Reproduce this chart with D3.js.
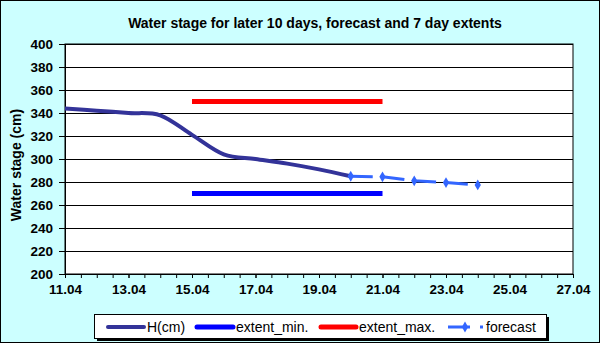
<!DOCTYPE html>
<html><head><meta charset="utf-8">
<script src="https://cdn.jsdelivr.net/npm/d3@7"></script>
<style>body{margin:0;} svg{display:block;font-family:"Liberation Sans",Arial,sans-serif;}</style>
</head><body><svg id="c" width="600" height="343"></svg>
<script>
// ---- data ----
const hDates = ["11.04","12.04","13.04","14.04","15.04","16.04","17.04","18.04","19.04","20.04"];
const hValues = [344, 342, 340, 338, 321, 304, 300, 296, 291, 285];
const forecastDates = ["20.04","21.04","22.04","23.04","24.04"];
const forecastValues = [285, 284.5, 281, 279.5, 277.5];
const extentDates = ["15.04","21.04"];
const extentMinValues = [270, 270];
const extentMaxValues = [350, 350];
const xTickLabels = ["11.04","13.04","15.04","17.04","19.04","21.04","23.04","25.04","27.04"];
const yTickValues = [200,220,240,260,280,300,320,340,360,380,400];
const seriesNames = ["H(cm)","extent_min.","extent_max.","forecast"];
const titleText = "Water stage for later 10 days, forecast and 7 day extents";
const yTitle = "Water stage (cm)";

// ---- setup ----
const W = 600, H = 343;
const m = {l:65, r:27, t:44, b:69};
const parse = d3.timeParse("%d.%m");
const fmt = d3.timeFormat("%d.%m");
const svg = d3.select("#c");

const x = d3.scaleTime()
  .domain([parse(xTickLabels[0]), parse(xTickLabels[xTickLabels.length-1])])
  .range([m.l, W - m.r]);
const y = d3.scaleLinear().domain([200, 400]).range([H - m.b, m.t]);

// background
svg.append("rect").attr("x",0.5).attr("y",0.5).attr("width",W-1).attr("height",H-1)
  .attr("fill","#ccffff").attr("stroke","#000");
// plot area
svg.append("rect").attr("x",m.l).attr("y",m.t).attr("width",W-m.l-m.r).attr("height",H-m.t-m.b)
  .attr("fill","#fff").attr("stroke","#000");

// gridlines
svg.append("g").selectAll("line").data(yTickValues).join("line")
  .attr("x1",m.l).attr("x2",W-m.r)
  .attr("y1",d=>Math.round(y(d))+0.5).attr("y2",d=>Math.round(y(d))+0.5)
  .attr("stroke","#000").attr("stroke-width",1);

// y axis
const yAxis = svg.append("g").attr("transform",`translate(${m.l},0)`)
  .call(d3.axisLeft(y).tickValues(yTickValues).tickSize(6).tickPadding(6));
yAxis.select(".domain").attr("stroke","#000");
yAxis.selectAll("text").attr("font-size",13.5).attr("font-weight","bold").attr("fill","#000");

// x axis: minor ticks every half day, labels every 2 days
const minor = d3.timeHour.every(12).range(x.domain()[0], d3.timeHour.offset(x.domain()[1],1));
const xAxisMinor = svg.append("g").attr("transform",`translate(0,${H-m.b})`)
  .call(d3.axisBottom(x).tickValues(minor).tickSize(4).tickFormat(""));
xAxisMinor.select(".domain").attr("stroke","#000");
const xAxis = svg.append("g").attr("transform",`translate(0,${H-m.b})`)
  .call(d3.axisBottom(x).tickValues(xTickLabels.map(parse)).tickSize(4).tickPadding(6.5).tickFormat(fmt));
xAxis.select(".domain").remove();
xAxis.selectAll("text").attr("font-size",13.5).attr("font-weight","bold").attr("fill","#000");

// series
const lineGen = d3.line().x(d=>x(d[0])).y(d=>y(d[1]));
svg.append("path")
  .datum(hDates.map((d,i)=>[parse(d), hValues[i]]))
  .attr("d", lineGen.curve(d3.curveCatmullRom.alpha(0)))
  .attr("fill","none").attr("stroke","#333399").attr("stroke-width",4).attr("stroke-linejoin","round");

const straight = d3.line().x(d=>x(d[0])).y(d=>y(d[1]));
svg.append("path")
  .datum(extentDates.map((d,i)=>[parse(d), extentMinValues[i]]))
  .attr("d", straight).attr("fill","none").attr("stroke","#0000ff").attr("stroke-width",5);
svg.append("path")
  .datum(extentDates.map((d,i)=>[parse(d), extentMaxValues[i]]))
  .attr("d", straight).attr("fill","none").attr("stroke","#ff0000").attr("stroke-width",5);

const fData = forecastDates.map((d,i)=>[parse(d), forecastValues[i]]);
svg.append("path").datum(fData).attr("d", straight)
  .attr("fill","none").attr("stroke","#3366ff").attr("stroke-width",3)
  .attr("stroke-dasharray","22,9.8");
const diamond = d3.symbol().type(d3.symbolDiamond).size(34);
svg.append("g").selectAll("path").data(fData).join("path")
  .attr("transform",d=>`translate(${x(d[0])},${y(d[1])})`)
  .attr("d", diamond).attr("fill","#3366ff");

// title
svg.append("text").attr("x",315).attr("y",28).attr("text-anchor","middle")
  .attr("font-size",14).attr("font-weight","bold").text(titleText);
svg.append("text").attr("transform","translate(21,165) rotate(-90)").attr("text-anchor","middle")
  .attr("font-size",14).attr("font-weight","bold").text(yTitle);

// legend
const lg = svg.append("g");
lg.append("rect").attr("x",97).attr("y",317).attr("width",452).attr("height",24).attr("fill","#000");
lg.append("rect").attr("x",94.5).attr("y",314.5).attr("width",452).attr("height",24)
  .attr("fill","#fff").attr("stroke","#000");
const ly = 327;
const legendItems = [
  {name:seriesNames[0], color:"#333399", x0:108, x1:144, w:4},
  {name:seriesNames[1], color:"#0000ff", x0:197, x1:233, w:5},
  {name:seriesNames[2], color:"#ff0000", x0:321, x1:356, w:5},
];
legendItems.forEach(it=>{
  lg.append("line").attr("x1",it.x0).attr("x2",it.x1).attr("y1",ly).attr("y2",ly)
    .attr("stroke",it.color).attr("stroke-width",it.w).attr("stroke-linecap","round");
  lg.append("text").attr("x",it.x1+3).attr("y",ly+5).attr("font-size",14).text(it.name);
});
lg.append("line").attr("x1",448).attr("x2",483).attr("y1",ly).attr("y2",ly)
  .attr("stroke","#3366ff").attr("stroke-width",3).attr("stroke-dasharray","22,10");
lg.append("path").attr("transform",`translate(465,${ly})`).attr("d",diamond).attr("fill","#3366ff");
lg.append("text").attr("x",486).attr("y",ly+5).attr("font-size",14).text(seriesNames[3]);
</script></body></html>
